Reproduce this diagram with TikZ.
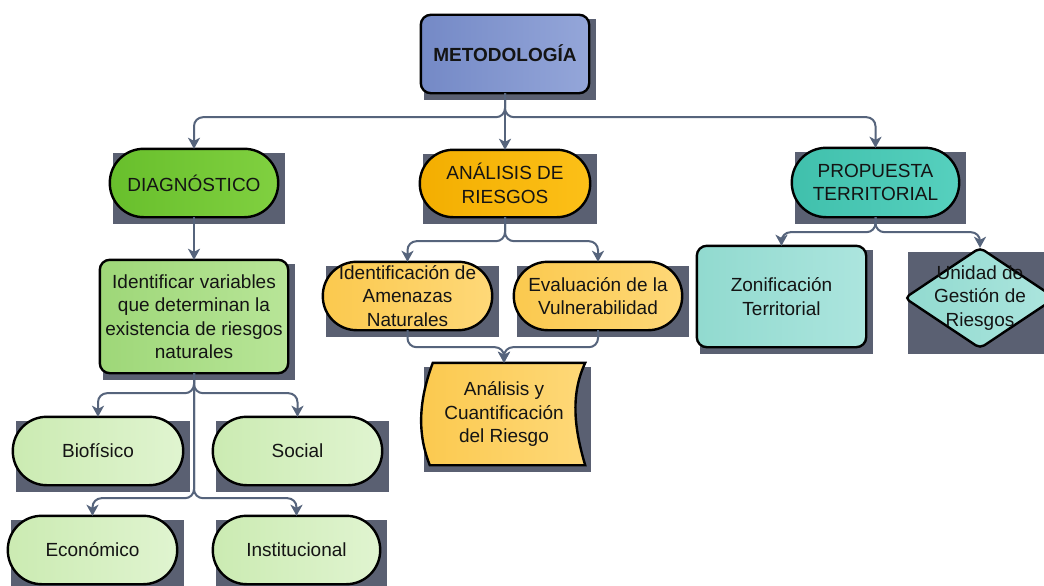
\documentclass[tikz,border=0pt]{standalone}
\usepackage{fontspec}
\setmainfont{Liberation Sans}
\usetikzlibrary{arrows.meta,calc}
\definecolor{shd}{HTML}{5A6072}
\definecolor{linec}{HTML}{56647C}
\definecolor{metA}{HTML}{7489C6}
\definecolor{metB}{HTML}{94A6D9}
\definecolor{diagA}{HTML}{68BF2C}
\definecolor{diagB}{HTML}{80D040}
\definecolor{anA}{HTML}{F3AE00}
\definecolor{anB}{HTML}{FCC018}
\definecolor{prA}{HTML}{40C0AC}
\definecolor{prB}{HTML}{56D0BE}
\definecolor{idA}{HTML}{9ED778}
\definecolor{idB}{HTML}{B8E598}
\definecolor{lgA}{HTML}{CBEBB2}
\definecolor{lgB}{HTML}{E0F4D0}
\definecolor{yeA}{HTML}{FBC94E}
\definecolor{yeB}{HTML}{FED878}
\definecolor{ltA}{HTML}{91DACF}
\definecolor{ltB}{HTML}{ACE5DE}
\newcommand{\myfs}{\fontsize{19}{23.5}\selectfont}
\pgfdeclarelayer{shadowlayer}
\pgfdeclarelayer{shapelayer}
\pgfsetlayers{shadowlayer,shapelayer,main}
\tikzset{
  txt/.style={inner sep=0pt, align=center, font=\myfs, text=black!92},
  outline/.style={draw=black, line width=2.4pt},
  conn/.style={draw=linec, line width=2pt, rounded corners=9pt,
    -{Stealth[length=11pt,width=12pt,inset=3pt]}},
}
% #1 node name, #2 colour options, #3 corner radius
\newcommand{\mkshape}[3]{%
  \begin{pgfonlayer}{shadowlayer}
    \fill[shd] ($(#1.north west)+(3,4)$) rectangle ($(#1.south east)+(7,7)$);
  \end{pgfonlayer}
  \begin{pgfonlayer}{shapelayer}
    \path[outline,rounded corners=#3,#2] (#1.north west) rectangle (#1.south east);
  \end{pgfonlayer}}
\begin{document}
\begin{tikzpicture}[x=1pt,y=-1pt]
\useasboundingbox (0,0) rectangle (1044,586);
\begin{pgfonlayer}{shadowlayer}
\fill[white] (0,0) rectangle (1044,586);
\end{pgfonlayer}
\clip (0,0) rectangle (1044,586);

% nodes
\node[txt, font=\myfs\bfseries, minimum width=168pt, minimum height=78pt] (met) at (505,54) {\raisebox{1.5pt}{METODOLOGÍA}};
\node[txt, minimum width=168pt, minimum height=68pt] (diag) at (194,183) {DIAGNÓSTICO};
\node[txt, minimum width=170pt, minimum height=67pt] (anal) at (505,183.5) {ANÁLISIS DE\\RIESGOS};
\node[txt, minimum width=167pt, minimum height=69pt] (prop) at (875.5,182.5) {PROPUESTA\\TERRITORIAL};
\node[txt, minimum width=188pt, minimum height=113pt] (ident) at (194,316.5) {Identificar variables\\que determinan la\\existencia de riesgos\\naturales};
\node[txt, minimum width=169pt, minimum height=68pt] (amen) at (407.5,296) {Identificación de\\Amenazas\\Naturales};
\node[txt, minimum width=168pt, minimum height=68pt] (vuln) at (598,296) {Evaluación de la\\Vulnerabilidad};
\node[txt, minimum width=169pt, minimum height=101pt] (zon) at (781.5,296.5) {Zonificación\\Territorial};
\node[txt, minimum width=150pt, minimum height=100pt] (unid) at (980,298) {Unidad de\\Gestión de\\Riesgos};
\node[txt, minimum width=162pt, minimum height=102pt] (cuant) at (504,414) {Análisis y\\Cuantificación\\del Riesgo};
\node[txt, minimum width=170pt, minimum height=68pt] (bio) at (98,451) {Biofísico};
\node[txt, minimum width=169pt, minimum height=68pt] (soc) at (297.5,451) {Social};
\node[txt, minimum width=169pt, minimum height=68pt] (eco) at (92.5,550) {Económico};
\node[txt, minimum width=167pt, minimum height=68pt] (inst) at (296.5,550) {Institucional};

% shapes
\mkshape{met}{left color=metA,right color=metB}{10pt}
\mkshape{diag}{left color=diagA,right color=diagB}{33.9pt}
\mkshape{anal}{left color=anA,right color=anB}{33.4pt}
\mkshape{prop}{left color=prA,right color=prB}{34.4pt}
\mkshape{ident}{left color=idA,right color=idB}{10pt}
\mkshape{amen}{left color=yeA,right color=yeB}{33.9pt}
\mkshape{vuln}{left color=yeA,right color=yeB}{33.9pt}
\mkshape{zon}{left color=ltA,right color=ltB}{10pt}
\mkshape{bio}{left color=lgA,right color=lgB}{33.9pt}
\mkshape{soc}{left color=lgA,right color=lgB}{33.9pt}
\mkshape{eco}{left color=lgA,right color=lgB}{33.9pt}
\mkshape{inst}{left color=lgA,right color=lgB}{33.9pt}

% diamond and stored-data shape
\begin{pgfonlayer}{shadowlayer}
  \fill[shd] ($(unid.north west)+(3,4)$) rectangle ($(unid.south east)+(7,6)$);
  \fill[shd] ($(cuant.north west)+(1,4)$) rectangle ($(cuant.south east)+(6,7)$);
\end{pgfonlayer}
\begin{pgfonlayer}{shapelayer}
  \path[outline, rounded corners=5pt, left color=ltA, right color=ltB]
    (unid.north) -- (unid.east) -- (unid.south) -- (unid.west) -- cycle;
  \path[outline, left color=yeA, right color=yeB]
    ($(cuant.north west)+(10,0)$) -- (cuant.north east)
    .. controls ($(cuant.north east)+(-14,30)$) and ($(cuant.south east)+(-12,-40)$) .. (cuant.south east)
    -- ($(cuant.south west)+(7,0)$)
    .. controls ($(cuant.south west)+(-5,-30)$) and ($(cuant.north west)+(-5,40)$) .. ($(cuant.north west)+(10,0)$)
    -- cycle;
\end{pgfonlayer}

% connectors
\draw[conn] (met.south) -- ++(0,24) -| (diag.north);
\draw[conn] (met.south) -- (anal.north);
\draw[conn] (met.south) -- ++(0,24) -| (prop.north);
\draw[conn] (diag.south) -- (ident.north);
\draw[conn] (ident.south) -- ++(0,20) -| (bio.north);
\draw[conn] (ident.south) -- ++(0,20) -| (soc.north);
\draw[conn] (ident.south) -- ++(0,125) -| (eco.north);
\draw[conn] (ident.south) -- ++(0,125) -| (inst.north);
\draw[conn] (anal.south) -- ++(0,24) -| (amen.north);
\draw[conn] (anal.south) -- ++(0,24) -| (vuln.north);
\draw[conn] (amen.south) -- ++(0,17) -| (cuant.north);
\draw[conn] (vuln.south) -- ++(0,17) -| (cuant.north);
\draw[conn] (prop.south) -- ++(0,15) -| (zon.north);
\draw[conn] (prop.south) -- ++(0,15) -| (unid.north);
\end{tikzpicture}
\end{document}
